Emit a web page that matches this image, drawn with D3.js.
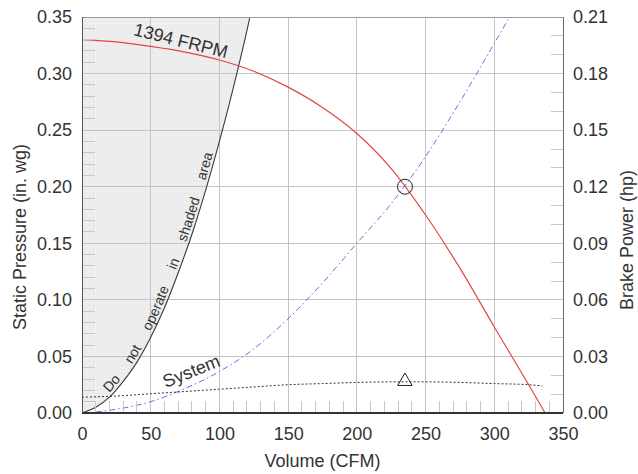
<!DOCTYPE html>
<html><head><meta charset="utf-8">
<script src="https://cdn.jsdelivr.net/npm/d3@7"></script>
<style>
body{margin:0;background:#fff}
svg{display:block}
text{font-family:"Liberation Sans",Arial,sans-serif;fill:#333}
</style>
</head><body>
<svg id="c" width="638" height="474"></svg>
<script>
// ---- data ----
const xTicks=[0,50,100,150,200,250,300,350];
const yTicks=[0,0.05,0.10,0.15,0.20,0.25,0.30,0.35];
const y2Ticks=[0,0.03,0.06,0.09,0.12,0.15,0.18,0.21];

const fanCfm=[0,25,50,75,100,125,150,175,200,225,250,275,300,325,337];
const fanSP=[0.330,0.328,0.324,0.319,0.312,0.302,0.288,0.270,0.247,0.216,0.175,0.128,0.076,0.025,0];

const bhpCfm=[10,25,50,75,100,125,150,175,200,225,250,275,300,315];
const bhpHp=[0.0005,0.002,0.006,0.013,0.022,0.034,0.050,0.069,0.090,0.111,0.136,0.165,0.196,0.215];

const sysCfm=[0,25,50,75,100,125,150,175,200,225,250,275,300,325,335];
const sysSP=[0.014,0.015,0.017,0.019,0.021,0.023,0.025,0.026,0.027,0.0275,0.0275,0.027,0.026,0.025,0.024];

const limitCfm=[0,10,20,30,40,50,60,70,80,90,100,110,120,124];
const limitSP=[0,0.005,0.014,0.028,0.045,0.067,0.093,0.124,0.158,0.197,0.240,0.287,0.338,0.36];

const opCfm=235, opSP=0.200;      // operating point (circle)
const sysPtCfm=235, sysPtSP=0.028; // system point (triangle)

const fanLabel="1394 FRPM";
const sysLabel="System";
const limitLabel="Do not operate in shaded area";

// ---- layout ----
const L=82,R=563,T=17,B=413;
const svg=d3.select("#c");
const x=d3.scaleLinear().domain([0,350]).range([L,R]);
const y=d3.scaleLinear().domain([0,0.35]).range([B,T]);
const y2=d3.scaleLinear().domain([0,0.21]).range([B,T]);

const defs=svg.append("defs");
defs.append("clipPath").attr("id","plot").append("rect")
  .attr("x",L).attr("y",T).attr("width",R-L).attr("height",B-T);
const pat=defs.append("pattern").attr("id","dots").attr("patternUnits","userSpaceOnUse")
  .attr("width",4).attr("height",4);
pat.append("rect").attr("width",4).attr("height",4).attr("fill","#eeeeee");
pat.append("rect").attr("x",1).attr("y",1).attr("width",1).attr("height",1).attr("fill","#dddddd");

const plot=svg.append("g").attr("clip-path","url(#plot)");

// shaded no-operate area
const limitPts=limitCfm.map((c,i)=>[c,limitSP[i]]);
const shadePts=[[0,0.36]].concat(limitPts);
plot.append("path")
  .attr("d",d3.line().x(d=>x(d[0])).y(d=>y(d[1]))(shadePts)+"Z")
  .attr("fill","url(#dots)");

// grid
plot.append("g").selectAll("line").data(xTicks.slice(1,-1)).join("line")
  .attr("x1",d=>x(d)).attr("x2",d=>x(d)).attr("y1",T).attr("y2",B)
  .attr("stroke","#c4c4c4").attr("stroke-width",1).attr("shape-rendering","crispEdges");
plot.append("g").selectAll("line").data(yTicks.slice(1,-1)).join("line")
  .attr("x1",L).attr("x2",R).attr("y1",d=>y(d)).attr("y2",d=>y(d))
  .attr("stroke","#c4c4c4").attr("stroke-width",1).attr("shape-rendering","crispEdges");

// minor ticks
const minorX=d3.range(10,350,10).filter(v=>v%50!==0);
const minorY=d3.range(1,35).map(v=>v/100).filter((v,i)=>(i+1)%5!==0);
const minorY2=d3.range(1,21).map(v=>v/100).filter((v,i)=>(i+1)%3!==0);
svg.append("g").selectAll("line").data(minorX).join("line")
  .attr("x1",d=>x(d)).attr("x2",d=>x(d)).attr("y1",B).attr("y2",B-12)
  .attr("stroke","#c8c8c8").attr("shape-rendering","crispEdges");
svg.append("g").selectAll("line").data(minorY).join("line")
  .attr("x1",L).attr("x2",L+13).attr("y1",d=>y(d)).attr("y2",d=>y(d))
  .attr("stroke","#c8c8c8").attr("shape-rendering","crispEdges");
svg.append("g").selectAll("line").data(minorY2).join("line")
  .attr("x1",R).attr("x2",R-12).attr("y1",d=>y2(d)).attr("y2",d=>y2(d))
  .attr("stroke","#c8c8c8").attr("shape-rendering","crispEdges");

// curves
const lineXY=d3.line().x(d=>x(d[0])).y(d=>y(d[1])).curve(d3.curveMonotoneX);
const lineXY2=d3.line().x(d=>x(d[0])).y(d=>y2(d[1])).curve(d3.curveMonotoneX);

plot.append("path").attr("d",lineXY(limitPts))
  .attr("fill","none").attr("stroke","#3a3a3a").attr("stroke-width",1.1);

plot.append("path").attr("d",lineXY2(bhpCfm.map((c,i)=>[c,bhpHp[i]])))
  .attr("fill","none").attr("stroke","#6f6fd8").attr("stroke-width",1)
  .attr("stroke-dasharray","6,3,1.5,3");

plot.append("path").attr("d",lineXY(sysCfm.map((c,i)=>[c,sysSP[i]])))
  .attr("fill","none").attr("stroke","#333").attr("stroke-width",1)
  .attr("stroke-dasharray","2,2");

plot.append("path").attr("d",lineXY(fanCfm.map((c,i)=>[c,fanSP[i]])))
  .attr("fill","none").attr("stroke","#e24646").attr("stroke-width",1.2);

// markers
svg.append("circle").attr("cx",x(opCfm)).attr("cy",y(opSP)).attr("r",7.5)
  .attr("fill","none").attr("stroke","#222").attr("stroke-width",1);
svg.append("path").attr("transform",`translate(${x(sysPtCfm)},${y(sysPtSP)})`)
  .attr("d",d3.symbol(d3.symbolTriangle,90)())
  .attr("fill","none").attr("stroke","#222").attr("stroke-width",1);

// axes
const fmt2=d3.format(".2f");
const ax=svg.append("g").attr("transform",`translate(0,${B})`)
  .call(d3.axisBottom(x).tickValues(xTicks).tickSize(0).tickPadding(14).tickFormat(d3.format("d")));
const ayl=svg.append("g").attr("transform",`translate(${L},0)`)
  .call(d3.axisLeft(y).tickValues(yTicks).tickSize(0).tickPadding(10).tickFormat(fmt2));
const ayr=svg.append("g").attr("transform",`translate(${R},0)`)
  .call(d3.axisRight(y2).tickValues(y2Ticks).tickSize(0).tickPadding(10).tickFormat(fmt2));
[ax,ayl,ayr].forEach(g=>{
  g.selectAll("text").attr("font-size",18).attr("font-family","Liberation Sans, Arial, sans-serif").attr("fill","#383838");
  g.select(".domain").remove();
});
// frame
svg.append("line").attr("x1",L).attr("x2",R).attr("y1",T).attr("y2",T).attr("stroke","#9a9a9a").attr("shape-rendering","crispEdges");
svg.append("line").attr("x1",R).attr("x2",R).attr("y1",T).attr("y2",B).attr("stroke","#6a6a6a").attr("shape-rendering","crispEdges");
svg.append("line").attr("x1",L).attr("x2",L).attr("y1",T).attr("y2",B).attr("stroke","#555").attr("shape-rendering","crispEdges");
svg.append("line").attr("x1",L).attr("x2",R).attr("y1",B).attr("y2",B).attr("stroke","#333").attr("stroke-width",1.3).attr("shape-rendering","crispEdges");

// titles
svg.append("text").attr("x",(L+R)/2).attr("y",467).attr("text-anchor","middle")
  .attr("font-size",18).text("Volume (CFM)");
svg.append("text").attr("transform","translate(26,237) rotate(-90)").attr("text-anchor","middle")
  .attr("font-size",18).text("Static Pressure (in. wg)");
svg.append("text").attr("transform","translate(633,240) rotate(-90)").attr("text-anchor","middle")
  .attr("font-size",18).text("Brake Power (hp)");

// annotations
svg.append("text").attr("transform",`translate(${x(37)},35) rotate(14)`)
  .attr("font-size",18).attr("fill","#222").text(fanLabel);
svg.append("text").attr("transform",`translate(${x(61)},388) rotate(-22)`)
  .attr("font-size",18).attr("fill","#222").text(sysLabel);

const lblPts=limitPts.filter(d=>d[0]>=20);
defs.append("path").attr("id","limitPath").attr("d",lineXY(lblPts));
svg.append("text").attr("font-size",14).attr("fill","#333").attr("dy",-3)
  .attr("word-spacing",15)
  .append("textPath").attr("href","#limitPath").attr("startOffset",3).text(limitLabel);
</script>
</body></html>
